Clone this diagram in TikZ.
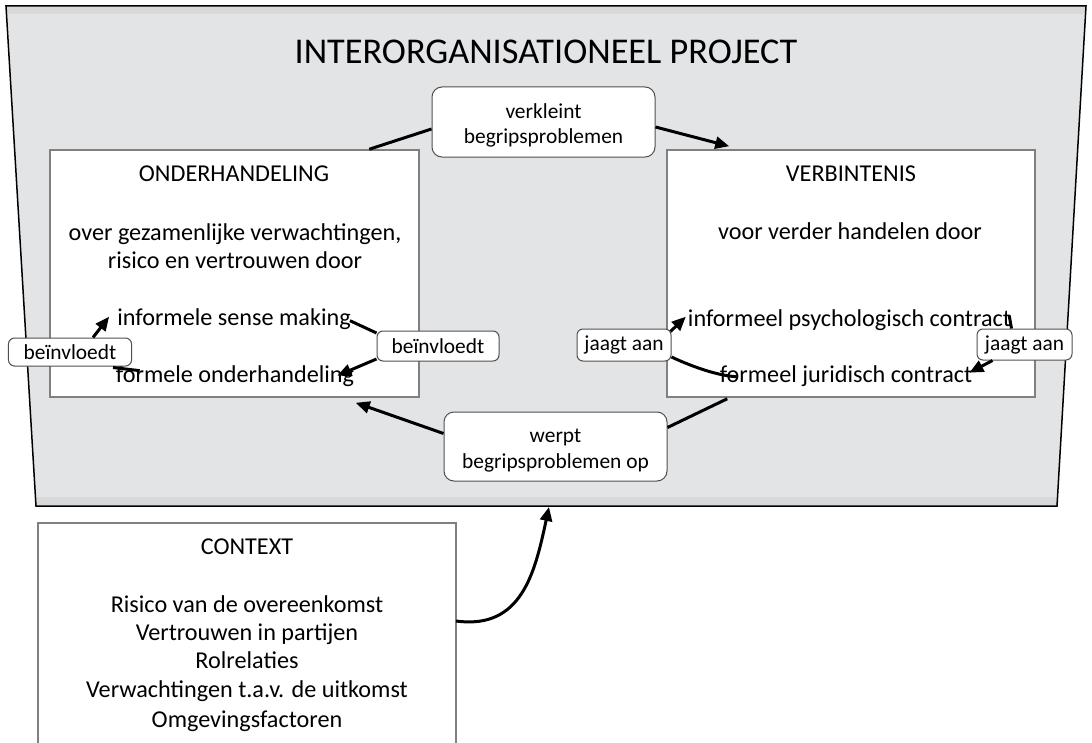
\documentclass[tikz,border=0pt]{standalone}
\usepackage{fontspec}
\setmainfont{Carlito}
\usetikzlibrary{arrows.meta,calc}
\definecolor{projfill}{HTML}{E3E4E6}
\definecolor{projstrip}{HTML}{D8D9DB}
\definecolor{boxline}{HTML}{808080}
\definecolor{lblline}{HTML}{505050}
\tikzset{
 body/.style={font=\fontsize{24.2bp}{28.6bp}\selectfont, inner sep=0pt, anchor=base},
 titletxt/.style={font=\fontsize{36.3bp}{40bp}\selectfont, inner sep=0pt, anchor=base},
 bigbox/.style={draw=boxline, line width=1.5bp, fill=white, inner sep=0pt},
 lbl/.style={draw=lblline, line width=1bp, fill=white, rounded corners=10bp, align=center,
   font=\fontsize{21.4bp}{25.5bp}\selectfont, inner sep=0pt},
 smalllbl/.style={lbl, rounded corners=6bp},
 conn/.style={line width=3bp},
 arr/.style={conn, -{Triangle[length=14bp,width=12bp]}},
}
\begin{document}
\begin{tikzpicture}[x=1bp,y=-1bp]
\useasboundingbox (0,0) rectangle (1092,743);
% project area
\begin{scope}
\clip (6,6) -- (1086,6) -- (1057,506) -- (36,506) -- cycle;
\fill[projfill] (0,0) rectangle (1092,510);
\fill[projstrip] (0,0) rectangle (1092,14);
\fill[projstrip] (0,497) rectangle (1092,510);
\end{scope}
\draw[line width=1.5bp] (6,6) -- (1086,6) -- (1057,506) -- (36,506) -- cycle;
\coordinate (projb) at (549,507);
\node[titletxt] (title) at (546,64) {INTERORGANISATIONEEL PROJECT};

% main boxes
\node[bigbox, minimum width=369bp, minimum height=247bp] (onder) at (234.5,273.5) {};
\node[bigbox, minimum width=368bp, minimum height=247bp] (verb) at (851,273.5) {};

\node[body] (onh) at (234,181) {ONDERHANDELING};
\node[body] (ov1) at (235,240) {over gezamenlijke verwachtingen,};
\node[body] (ov2) at (235,268) {risico en vertrouwen door};
\node[body] (ism) at (234,325) {informele sense making};
\node[body] (fo) at (235,382) {formele onderhandeling};

\node[body] (vbt) at (851,181) {VERBINTENIS};
\node[body] (vvh) at (850,239) {voor verder handelen door};
\node[body] (ipc) at (849.5,326) {informeel psychologisch contract};
\node[body] (fjc) at (846,382) {formeel juridisch contract};

% context box
\draw[draw=boxline, line width=1.5bp] (38,743) -- (38,523) -- (456,523) -- (456,743);
\coordinate (ctxr) at (456,621);
\node[body] (ctx) at (247,554) {CONTEXT};
\node[body] (c1) at (247,612) {Risico van de overeenkomst};
\node[body] (c2) at (247,640) {Vertrouwen in partijen};
\node[body] (c3) at (247,668) {Rolrelaties};
\node[body] (c4) at (247,697) {Verwachtingen t.a.v. de uitkomst};
\node[body] (c5) at (247,727) {Omgevingsfactoren};

% connector labels
\node[lbl, minimum width=223bp, minimum height=70bp] (verk) at (543.5,122) {\rule{0pt}{22bp}verkleint\\begripsproblemen};
\node[lbl, minimum width=223bp, minimum height=69bp] (werpt) at (555.5,446.5) {\rule{0pt}{22bp}werpt\\begripsproblemen op};
\node[smalllbl, minimum width=123bp, minimum height=28bp] (lb1) at (70,352) {beïnvloedt};
\node[smalllbl, minimum width=122bp, minimum height=30bp] (lb2) at (438,346) {beïnvloedt};
\node[smalllbl, minimum width=94bp, minimum height=32bp] (jl) at (624,345) {jaagt aan};
\node[smalllbl, minimum width=95bp, minimum height=31bp] (jr) at (1024.5,344.5) {jaagt aan};

% cycle connectors
\draw[conn] ($(onder.north west)+(320,0)$) -- ($(verk.west)+(0,7)$);
\draw[arr] ($(verk.east)+(0,5)$) -- ($(verb.north west)+(63,-3)$);
\draw[conn] ($(werpt.east)+(0,-19)$) -- ($(verb.south west)+(61,1)$);
\draw[arr] ($(werpt.west)+(0,-13)$) -- ($(onder.south east)+(-64,5)$);
\draw[arr] (ctxr) .. controls (522,630) and (535,572) .. (projb);

% inner connectors left
\draw[arr] ($(lb1.north)+(23,0)$) -- ($(ism.west)+(-8,-2)$);
\draw[conn] ($(lb1.south)+(43,1)$) -- ($(fo.west)+(24,-5)$);
\draw[conn] ($(ism.east)+(-1,2)$) -- ($(lb2.west)+(0,-13)$);
\draw[arr] ($(lb2.west)+(0,13)$) -- ($(fo.east)+(-17,0)$);

% inner connectors right
\draw[arr] ($(jl.north east)+(-1,3)$) -- ($(ipc.west)+(-2,-3)$);
\draw[conn] ($(jl.east)+(0,12)$) .. controls (695,368) and (720,376) .. ($(fjc.west)+(17,1)$);
\draw[conn] ($(ipc.east)+(-2,-4)$) -- ($(jr.north)+(-13,0)$);
\draw[arr] ($(jr.south west)+(16,0)$) -- ($(fjc.east)+(-3,-3)$);
\end{tikzpicture}
\end{document}
